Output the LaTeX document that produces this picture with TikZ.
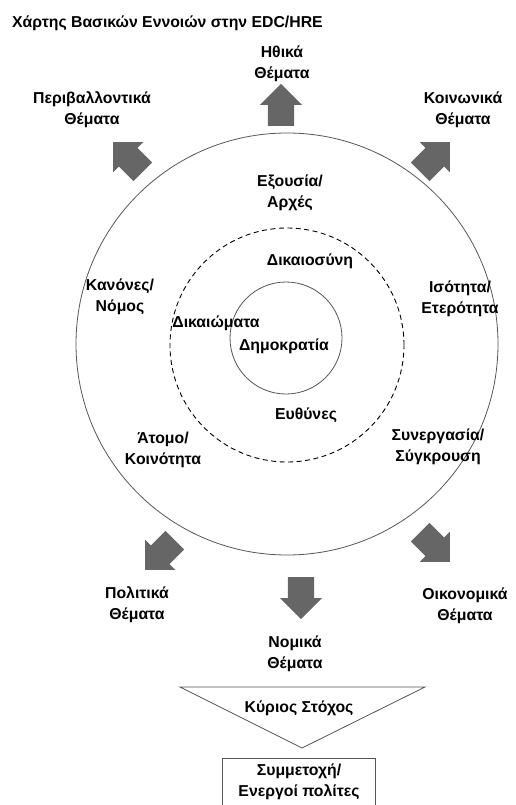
\documentclass[tikz,border=0pt]{standalone}
\usepackage{fontspec}
\setmainfont{Liberation Sans}
\usetikzlibrary{shapes.geometric, shapes.arrows, positioning}
\definecolor{arrowgray}{HTML}{666666}
\definecolor{linegray}{HTML}{555555}
\tikzset{
  concept/.style={
    font=\bfseries\fontsize{15.8}{21}\selectfont,
    align=center, inner sep=0pt
  },
  bigarrow/.style={
    single arrow, draw=none, fill=arrowgray,
    inner xsep=0pt, inner ysep=13pt,
    minimum height=42pt, minimum width=42pt,
    single arrow head extend=8pt, single arrow tip angle=90,
    anchor=tail
  },
  ring/.style={circle, draw=linegray, line width=0.8pt, inner sep=0pt}
}

\begin{document}
\begin{tikzpicture}[x=1pt, y=-1pt]
\useasboundingbox (0,0) rectangle (516,805);

% ------------------------------------------------
% TITULO
% ------------------------------------------------

\node[concept, anchor=west] (title) at (12,23) {Χάρτης Βασικών Εννοιών στην EDC/HRE};

% ------------------------------------------------
% CIRCULOS
% ------------------------------------------------

\node[ring, minimum size=422pt] (outer) at (287,344) {};
\node[ring, draw=black, line width=0.9pt, dash pattern=on 5pt off 3.5pt,
  minimum size=234pt] (middle) at (287,345) {};
\node[ring, minimum size=112pt] (inner) at (286,338) {};

% ------------------------------------------------
% FLECHAS (temas)
% ------------------------------------------------

\node[bigarrow, rotate=90]  (aN)  at (281,126) {};
\node[bigarrow, rotate=135] (aNW) at (143,172) {};
\node[bigarrow, rotate=45]  (aNE) at (420,172) {};
\node[bigarrow, rotate=225] (aSW) at (175,540) {};
\node[bigarrow, rotate=-45] (aSE) at (420,532) {};
\node[bigarrow, rotate=-90] (aS)  at (301,577) {};

\node[concept] (ethic)   at (282,64)  {Ηθικά\\Θέματα};
\node[concept] (environ) at (92,110)  {Περιβαλλοντικά\\Θέματα};
\node[concept] (social)  at (463,110) {Κοινωνικά\\Θέματα};
\node[concept] (politic) at (137,605) {Πολιτικά\\Θέματα};
\node[concept] (econ)    at (465,606) {Οικονομικά\\Θέματα};
\node[concept] (legal)   at (295,654) {Νομικά\\Θέματα};

% ------------------------------------------------
% CONCEPTOS DENTRO DE LOS CIRCULOS
% ------------------------------------------------

\node[concept] (power)    at (290,193) {Εξουσία/\\Αρχές};
\node[concept] (rules)    at (120,297) {Κανόνες/\\Νόμος};
\node[concept] (equal)    at (460,299) {Ισότητα/\\Ετερότητα};
\node[concept] (person)   at (163,450) {Άτομο/\\Κοινότητα};
\node[concept] (coop)     at (438,447) {Συνεργασία/\\Σύγκρουση};
\node[concept] (justice)  at (310,261) {Δικαιοσύνη};
\node[concept] (rights)   at (216,323) {Δικαιώματα};
\node[concept] (democ)    at (284,346) {Δημοκρατία};
\node[concept] (duties)   at (306,415) {Ευθύνες};

% ------------------------------------------------
% OBJETIVO
% ------------------------------------------------

\coordinate (tl) at (180,687);
\coordinate (tr) at (425,687);
\coordinate (tip) at (302,748);
\draw[linegray, line width=0.8pt] (tl) -- (tr) -- (tip) -- cycle;
\node[concept] (aim) at (299,708) {Κύριος Στόχος};

\node[concept, minimum width=153pt, minimum height=47pt] (goal) at (299,782) {Συμμετοχή/\\Ενεργοί πολίτες};
\draw[linegray, line width=0.8pt] (goal.south west) -- (goal.north west)
  -- (goal.north east) -- (goal.south east);

\end{tikzpicture}
\end{document}
